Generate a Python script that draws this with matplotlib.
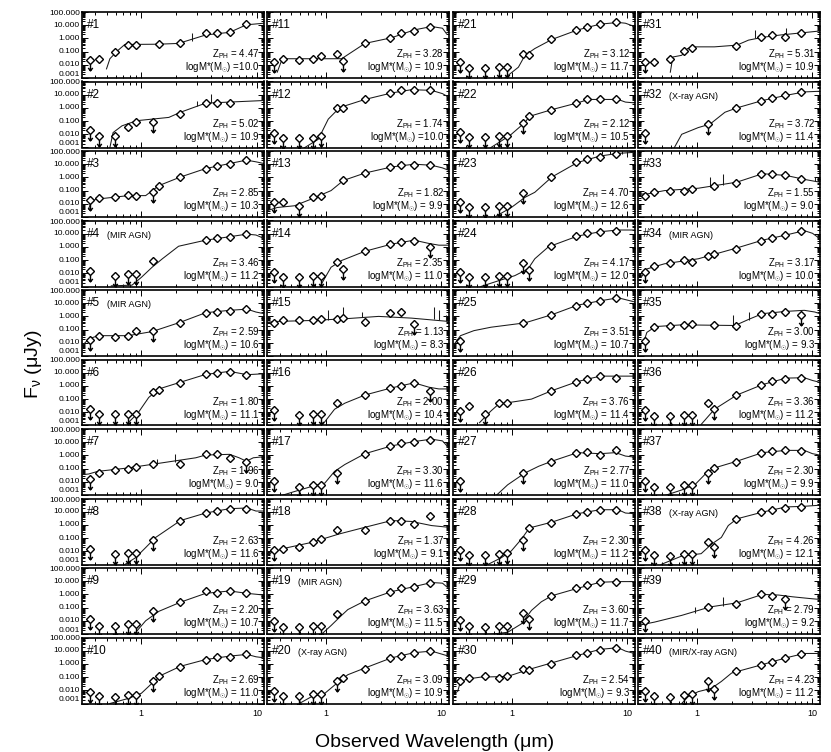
import numpy as np
import matplotlib
matplotlib.use('Agg')
import matplotlib.pyplot as plt
from matplotlib.path import Path
from matplotlib.transforms import offset_copy
from matplotlib.ticker import FixedLocator, LogLocator, NullFormatter, FormatStrFormatter

plt.rcParams['font.family'] = ['Liberation Sans', 'DejaVu Sans']
plt.rcParams['mathtext.fontset'] = 'custom'
plt.rcParams['mathtext.rm'] = 'Liberation Sans'
plt.rcParams['mathtext.it'] = 'Liberation Sans:italic'
plt.rcParams['mathtext.bf'] = 'Liberation Sans:bold'

# photometric bands (micron)
BAND_WAVE = [0.36, 0.43, 0.59, 0.77, 0.90, 1.25, 1.42, 2.16, 3.6, 4.5, 5.8, 8.0]
Y_TICKS = [0.001, 0.01, 0.1, 1, 10, 100]

n = None
# log10 flux (uJy) per band, None = not observed
PHOT = [
    [-1.67, -1.54, -1.03, -0.51, -0.51, n, -0.44, -0.33, 0.44, 0.44, 0.46, 1.08],
    [-1.67, -2.13, -2.13, -1.41, -1.10, -1.10, n, -0.46, 0.36, 0.36, 0.36, n],
    [-1.72, -1.56, -1.46, -1.31, -1.38, -1.08, -0.62, 0.03, 0.67, 0.85, 1.05, 1.31],
    [-1.79, n, -2.18, -2.05, -2.05, -1.10, n, n, 0.56, 0.64, 0.77, 0.97],
    [-1.77, -1.51, -1.59, -1.51, -1.13, -1.08, n, -0.49, 0.28, 0.33, 0.41, 0.55],
    [-1.77, -2.15, -2.15, -2.10, -2.10, -0.49, -0.28, 0.23, 0.87, 1.00, 1.05, 0.85],
    [-1.79, -1.33, -1.08, -1.00, -0.87, -0.64, n, -0.64, 0.08, 0.08, -0.18, -0.49],
    [-1.79, n, -2.23, -2.10, -2.10, -1.15, n, 0.33, 0.90, 1.03, 1.23, 1.23],
    [-1.85, -2.36, -2.36, -2.23, -2.23, -1.28, n, -0.56, 0.28, 0.13, 0.26, 0.13],
    [-2.10, -2.44, -2.49, -2.36, -2.36, -1.33, -0.95, -0.23, 0.33, 0.51, 0.54, 0.72],
    [-1.79, -1.54, -1.62, -1.54, -1.36, -1.15, -1.72, -0.38, 0.05, 0.38, 0.59, 0.90],
    [-1.87, -2.26, -2.26, -2.26, -2.13, 0.03, 0.03, 0.64, 1.13, 1.38, 1.38, 1.33],
    [-1.85, -1.90, -2.15, -1.51, -1.38, n, -0.23, 0.33, 0.79, 0.97, 0.97, 0.92],
    [-1.87, -2.31, -2.31, -2.18, -2.18, -1.15, -1.67, -0.33, 0.21, 0.38, 0.44, 0.00],
    [-0.51, -0.31, -0.31, -0.31, -0.23, -0.23, -0.13, -0.44, 0.26, 0.33, -0.56, n],
    [-1.85, n, -2.23, -2.15, -2.15, -1.31, n, -0.69, -0.15, 0.03, 0.23, -0.36],
    [-1.92, n, -2.36, -2.28, -2.28, -1.33, n, 0.13, 0.72, 0.92, 1.03, 1.18],
    [-1.92, -1.79, -1.67, -1.26, -1.08, -0.38, n, -0.38, 0.33, 0.33, 0.08, 0.64],
    [-2.03, -2.44, -2.44, -2.36, -2.36, -1.46, n, -0.51, 0.21, 0.46, 0.59, 0.90],
    [-2.03, -2.41, -2.41, -2.31, -2.31, -1.33, -1.08, -0.38, 0.46, 0.59, 0.85, 0.97],
    [-1.79, -2.26, -2.26, -2.18, -2.18, -1.15, -1.28, -0.08, 0.64, 0.90, 1.08, 1.21],
    [-1.79, -2.21, -2.21, -2.13, -2.13, -1.15, -0.64, -0.13, 0.38, 0.64, 0.64, 0.64],
    [-1.85, -2.23, -2.23, -2.15, -2.15, -1.21, n, 0.03, 1.13, 1.38, 1.56, 1.74],
    [-1.87, -2.26, -2.26, -2.18, -2.18, -1.21, -1.72, 0.05, 0.82, 1.03, 1.15, 1.23],
    [-1.85, n, n, n, n, -0.49, n, 0.08, 0.79, 1.03, 1.18, 1.36],
    [-1.90, -1.56, -2.15, -1.31, -1.31, n, n, -0.41, 0.33, 0.49, 0.74, 0.59],
    [-1.92, n, n, n, n, -1.33, n, -0.49, 0.21, 0.28, 0.03, 0.41],
    [-1.92, -2.31, -2.31, -2.23, -2.10, -1.15, -0.23, 0.15, 0.85, 0.97, 1.15, 1.15],
    [-1.97, -2.41, -2.44, -2.36, -2.36, -1.41, -1.85, -0.10, 0.46, 0.72, 0.92, 0.97],
    [-1.33, -1.08, -0.95, -1.08, -0.95, -0.38, -0.49, 0.03, 0.64, 0.85, 1.05, 1.18],
    [-1.79, -1.79, -1.54, -0.97, -0.72, n, n, -0.59, 0.08, 0.26, 0.08, 0.44],
    [-1.87, n, n, n, n, -1.23, n, 0.00, 0.56, 0.77, 0.95, 1.21],
    [-1.38, -1.08, -1.00, -1.00, -0.87, n, -0.62, -0.41, 0.23, 0.23, 0.15, -0.15],
    [-1.87, -1.41, -1.21, -1.03, -1.15, -0.72, -0.56, -0.13, 0.46, 0.69, 0.90, 1.23],
    [-1.85, -0.82, -0.69, -0.62, -0.56, n, -0.64, -0.74, 0.21, 0.21, 0.33, 0.08],
    [-1.85, -2.28, -2.28, -2.23, -2.23, -1.31, -1.77, -0.69, 0.10, 0.36, 0.54, 0.62],
    [-1.92, -2.36, -2.36, -2.23, -2.23, -1.33, -0.95, -0.51, 0.21, 0.33, 0.38, 0.33],
    [-1.92, -2.31, -2.36, -2.23, -2.18, -1.26, -1.67, 0.46, 0.97, 1.15, 1.28, 1.36],
    [-2.03, n, n, n, n, -0.95, n, -0.74, 0.00, -0.10, -0.38, n],
    [-2.03, -2.41, -2.49, -2.36, -2.31, -1.33, -1.92, -0.56, -0.05, 0.15, 0.46, 0.72],
]

# 'v' = upper limit
UPPER = [
    'v...........', 'vvv..v......', 'v....v......', 'v.vvv.......', 'v....v......',
    'vvvvv.......', 'v..........v', 'v.vvvv......', 'vvvvvv......', 'vvvvvv......',
    'v.....v.....', 'vvvvv.......', 'v.v.........', 'vvvvv.v....v', '..........v.',
    'v.vvv......v', 'v.vvvv......', 'v...........', 'vvvvv.......', 'vvvvvv......',
    'vvvvv.......', 'vvvvvv......', 'vvvvvv......', 'vvvvvvv.....', 'v...........',
    'v.v.........', 'v....v......', 'vvvvvv......', 'vvvvvvv.....', '............',
    'v...........', 'v....v......', '............', 'v...........', 'v..........v',
    'vvvvv.v.....', 'vvvvvv......', 'vvvvv.v.....', 'v.........v.', 'vvvvvvv.....',
]

# best-fit template, knots
MODEL_WAVE = [
    [0.50, 0.535, 0.59, 0.63, 0.72, 1.4, 2.1, 3.6, 5.8, 8.1, 11.5],
    [0.535, 0.57, 0.68, 0.91, 1.73, 2.18, 3.6, 11.5],
    [0.35, 0.37, 0.42, 0.77, 1.09, 1.42, 2.18, 3.6, 5.8, 8.1, 9.8, 11.5],
    [0.55, 0.83, 1.0, 1.24, 1.52, 2.1, 3.6, 5.8, 8.2, 9.8, 11.5],
    [0.307, 0.35, 0.42, 0.77, 1.24, 2.18, 3.6, 5.8, 8.2, 9.8, 11.5],
    [0.77, 0.94, 1.16, 1.42, 2.18, 3.6, 5.8, 8.2, 11.5],
    [0.307, 0.35, 0.42, 0.77, 1.52, 2.96, 3.6, 5.8, 7.0, 8.1, 9.3, 11.5],
    [0.72, 0.89, 1.09, 1.33, 1.62, 2.18, 3.6, 5.8, 8.2, 9.8, 11.5],
    [0.86, 1.09, 1.42, 2.18, 3.6, 5.8, 8.2, 11.5],
    [0.535, 0.77, 1.0, 1.24, 1.52, 2.18, 3.6, 5.8, 8.2, 9.8, 11.5],
    [0.38, 0.42, 1.37, 2.18, 3.7, 5.8, 8.2, 10.2, 11.0, 11.5],
    [0.65, 0.86, 1.05, 1.32, 2.18, 3.7, 5.5, 8.2, 10.2, 11.5],
    [0.307, 0.38, 0.535, 0.75, 1.11, 1.42, 2.18, 3.7, 5.8, 8.2, 10.2, 11.5],
    [0.89, 1.11, 1.37, 2.18, 3.7, 5.8, 7.8, 9.5, 11.5],
    [0.307, 0.38, 0.75, 1.46, 2.86, 5.5, 11.5],
    [0.94, 1.19, 1.46, 2.18, 3.7, 5.8, 7.8, 9.5, 11.5],
    [0.41, 0.535, 0.75, 0.98, 1.19, 1.46, 2.18, 3.7, 5.8, 8.2, 10.2, 11.5],
    [0.307, 0.44, 0.75, 1.3, 2.18, 3.7, 5.5, 8.2, 11.5],
    [0.91, 1.11, 1.32, 1.55, 2.18, 3.7, 5.8, 8.2, 10.2, 11.5],
    [0.59, 0.75, 0.98, 1.3, 1.55, 2.18, 3.7, 5.8, 8.2, 11.5],
    [0.87, 1.14, 1.30, 1.58, 2.22, 3.7, 5.8, 8.3, 9.6, 11.5],
    [0.66, 0.81, 0.99, 1.30, 1.42, 2.22, 3.7, 4.6, 8.3, 9.6, 11.5],
    [0.71, 0.99, 1.30, 1.58, 2.22, 3.7, 5.8, 8.3, 11.5],
    [0.54, 0.77, 1.06, 1.38, 1.58, 2.07, 3.7, 5.8, 8.3, 11.5],
    [0.318, 0.36, 0.47, 0.66, 1.30, 2.22, 3.7, 5.8, 8.3, 11.5],
    [0.525, 0.66, 0.77, 1.48, 2.22, 3.7, 5.8, 11.5],
    [0.73, 0.92, 1.30, 1.71, 2.22, 3.7, 5.8, 7.9, 9.6, 11.5],
    [0.62, 0.81, 0.99, 1.21, 1.42, 2.22, 3.7, 5.8, 8.3, 9.6, 11.5],
    [0.62, 0.92, 1.21, 1.48, 1.8, 2.22, 3.7, 5.8, 8.3, 11.5],
    [0.34, 0.36, 0.41, 0.54, 0.92, 1.38, 2.22, 3.7, 5.8, 8.3, 9.6, 11.5],
    [0.59, 0.62, 0.74, 0.83, 0.96, 1.42, 2.22, 2.8, 3.7, 5.3, 8.5, 11.5],
    [0.64, 0.74, 1.03, 1.30, 1.75, 2.22, 3.7, 5.9, 8.5, 11.5],
    [0.307, 0.37, 0.525, 1.03, 2.22, 3.7, 5.9, 8.5, 11.5],
    [0.33, 0.37, 0.525, 1.03, 2.22, 3.7, 5.9, 8.5, 10.0, 11.5],
    [0.35, 0.37, 0.44, 0.74, 2.14, 2.8, 3.7, 5.9, 8.5, 10.5, 11.5],
    [1.09, 1.42, 2.22, 3.7, 5.9, 8.5, 10.0, 11.5],
    [0.525, 0.74, 0.96, 1.17, 1.42, 2.22, 3.7, 5.9, 8.5, 10.0, 11.5],
    [0.49, 0.74, 1.09, 1.34, 1.63, 1.87, 2.22, 3.7, 5.9, 8.5, 11.5],
    [0.307, 0.43, 0.74, 1.30, 2.22, 3.7, 5.1, 6.7, 9.4, 11.5],
    [0.74, 0.84, 1.03, 1.34, 1.63, 2.0, 3.7, 5.9, 8.5, 11.5],
]
MODEL_FLUX = [
    [-2.31, -1.54, -1.15, -0.90, -0.46, -0.44, -0.38, 0.26, 0.46, 1.03, 1.15],
    [-3.0, -1.87, -1.36, -0.97, -0.72, -0.33, 0.36, 0.56],
    [-2.41, -1.77, -1.64, -1.38, -1.38, -0.62, 0.03, 0.67, 1.05, 1.31, 1.18, 1.05],
    [-2.95, -2.90, -2.31, -1.54, -0.90, 0.05, 0.51, 0.77, 0.97, 0.90, 0.64],
    [-2.23, -1.72, -1.46, -1.46, -1.15, -0.44, 0.28, 0.46, 0.55, 0.33, 0.21],
    [-2.79, -2.03, -0.87, -0.23, 0.28, 0.87, 1.10, 0.85, 0.92],
    [-1.46, -1.41, -1.21, -0.95, -0.56, -0.18, 0.03, 0.08, -0.18, -0.44, -0.18, -0.10],
    [-3.0, -2.49, -1.72, -0.95, -0.44, 0.33, 0.90, 1.23, 1.28, 1.05, 1.05],
    [-3.05, -2.0, -1.28, -0.59, 0.08, 0.26, 0.08, -0.05],
    [-3.0, -2.62, -2.23, -1.46, -0.82, -0.18, 0.33, 0.59, 0.72, 0.54, 0.46],
    [-2.56, -1.54, -1.54, -0.38, 0.05, 0.64, 0.90, 0.77, 0.38, 0.51],
    [-3.03, -2.38, -0.85, 0.03, 0.64, 1.13, 1.38, 1.33, 1.08, 0.82],
    [-2.54, -2.28, -2.15, -1.64, -1.0, -0.23, 0.33, 0.79, 1.0, 0.92, 0.72, 0.54],
    [-3.0, -1.54, -1.03, -0.33, 0.21, 0.51, 0.26, 0.13, 0.13],
    [-0.44, -0.38, -0.31, -0.18, 0.0, -0.13, -0.38],
    [-2.92, -1.77, -1.31, -0.69, -0.15, 0.23, -0.10, -0.23, -0.23],
    [-3.05, -2.74, -2.36, -2.10, -1.21, -0.69, 0.13, 0.72, 1.05, 1.23, 1.10, 0.59],
    [-2.23, -1.77, -1.33, -0.69, -0.18, 0.33, 0.26, -0.05, -0.18],
    [-3.05, -2.36, -1.72, -1.15, -0.49, 0.21, 0.59, 0.90, 0.85, 0.46],
    [-3.0, -2.49, -2.23, -1.33, -0.82, -0.31, 0.46, 0.85, 0.97, 0.59],
    [-3.0, -2.18, -1.28, -0.77, -0.08, 0.64, 1.08, 1.21, 1.15, 0.90],
    [-3.0, -2.51, -2.0, -1.10, -0.64, -0.13, 0.38, 0.64, 0.64, 0.44, 0.38],
    [-3.0, -2.28, -1.51, -1.13, 0.03, 1.13, 1.62, 1.82, 1.90],
    [-3.0, -2.56, -2.18, -1.67, -0.90, 0.0, 0.82, 1.15, 1.28, 1.28],
    [-2.10, -1.46, -1.08, -0.82, -0.49, 0.13, 0.85, 1.18, 1.41, 1.10],
    [-2.79, -1.90, -1.38, -1.0, -0.36, 0.33, 0.74, 0.74],
    [-3.05, -2.23, -1.33, -0.82, -0.44, 0.21, 0.13, 0.21, -0.05, -0.13],
    [-3.0, -2.49, -1.97, -1.08, -0.23, 0.21, 0.85, 1.15, 1.15, 0.90, 0.85],
    [-3.05, -2.87, -2.23, -1.21, -0.56, -0.10, 0.46, 0.92, 0.97, 0.97],
    [-2.10, -1.33, -1.15, -1.0, -0.95, -0.44, 0.08, 0.64, 1.10, 1.23, 0.97, 0.79],
    [-2.56, -1.41, -1.28, -0.77, -0.64, -0.64, -0.51, -0.13, 0.08, 0.26, 0.44, 0.56],
    [-3.0, -2.0, -1.49, -1.23, -0.33, 0.0, 0.56, 0.95, 1.21, 1.26],
    [-1.26, -1.26, -1.0, -0.82, -0.36, 0.28, 0.15, -0.15, -0.36],
    [-2.31, -1.67, -1.28, -0.90, -0.08, 0.51, 0.90, 1.23, 1.03, 0.64],
    [-1.85, -1.21, -0.77, -0.64, -0.69, -0.23, 0.21, 0.38, 0.46, 0.33, 0.21],
    [-2.92, -1.77, -0.69, 0.10, 0.59, 0.62, 0.41, 0.28],
    [-3.05, -2.62, -2.23, -1.46, -0.95, -0.44, 0.21, 0.38, 0.38, 0.13, 0.03],
    [-3.0, -2.36, -2.18, -1.46, -0.95, -0.05, 0.46, 0.97, 1.36, 1.41, 1.49],
    [-2.36, -2.10, -1.59, -0.95, -0.64, 0.0, -0.05, -0.18, -0.31, -0.38],
    [-3.0, -2.49, -2.10, -1.85, -1.33, -0.69, -0.05, 0.46, 0.79, 0.79],
]

# emission lines on the template: (wavelength, log base, log top)
SPIKES = {
    1: [(2.76, -0.20, 0.38)],
    2: [(3.05, 0.15, 0.56), (4.0, 0.40, 1.05)],
    7: [(1.38, -0.62, -0.30), (1.97, -0.49, 0.08)],
    15: [(1.05, -0.25, 0.46), (1.41, -0.18, 0.72), (2.05, -0.08, 0.33),
         (8.6, -0.20, 0.72), (9.5, -0.25, 0.51), (11.0, -0.35, 0.08)],
    31: [(3.2, 0.00, 0.64), (5.9, 0.26, 0.77)],
    33: [(1.3, -0.75, 0.00), (1.68, -0.60, 0.28), (10.5, -0.30, 0.00)],
    35: [(2.05, -0.69, 0.08), (2.8, -0.25, 0.33)],
    39: [(0.96, -1.40, -0.95), (1.69, -0.85, -0.18)],
}

Z_PHOT = ['4.47', '5.02', '2.85', '3.46', '2.59', '1.80', '1.96', '2.63', '2.20', '2.69',
          '3.28', '1.74', '1.82', '2.35', '1.13', '2.00', '3.30', '1.37', '3.63', '3.09',
          '3.12', '2.12', '4.70', '4.17', '3.51', '3.76', '2.77', '2.30', '3.60', '2.54',
          '5.31', '3.72', '1.55', '3.17', '3.00', '3.36', '2.30', '4.26', '2.79', '4.23']
LOG_MASS = ['10.0', '10.9', '10.3', '11.2', '10.6', '11.1', '9.0', '11.6', '10.7', '11.0',
            '10.9', '10.0', '9.9', '11.0', '8.3', '10.4', '11.6', '9.1', '11.5', '10.9',
            '11.7', '10.5', '12.6', '12.0', '10.7', '11.4', '11.0', '11.2', '11.7', '9.3',
            '10.9', '11.4', '9.0', '10.0', '9.3', '11.2', '9.9', '12.1', '9.2', '11.2']
NO_SPACE = {1, 12}
TAGS = {4: '(MIR AGN)', 5: '(MIR AGN)', 19: '(MIR AGN)', 20: '(X-ray AGN)',
        32: '(X-ray AGN)', 34: '(MIR AGN)', 38: '(X-ray AGN)', 40: '(MIR/X-ray AGN)'}

# down-arrow marker hung below the diamond
arrow = Path([(0, -4.0), (0, -10.5), (-2.3, -7.5), (0, -10.5), (2.3, -7.5)],
             [Path.MOVETO, Path.LINETO, Path.MOVETO, Path.LINETO, Path.LINETO])

W, H = 831, 752
fig = plt.figure(figsize=(W / 100, H / 100), dpi=100)

col_left = [82, 266.5, 452.5, 637.5]
pw, ph = 182, 66
row_step = 69.5

for k in range(40):
    num = k + 1
    col, row = k // 10, k % 10
    top = 12 + row * row_step
    ax = fig.add_axes([col_left[col] / W, 1 - (top + ph) / H, pw / W, ph / H])
    ax.set_xscale('log')
    ax.set_yscale('log')

    # template
    ax.plot(MODEL_WAVE[k], 10 ** np.array(MODEL_FLUX[k]), color='0.1', lw=0.75, zorder=2)
    for w, lo, hi in SPIKES.get(num, []):
        ax.vlines(w, 10 ** lo, 10 ** hi, color='0.1', lw=0.75, zorder=2)

    # photometry
    flux = np.array([np.nan if v is None else v for v in PHOT[k]])
    wave = np.array(BAND_WAVE)
    ok = ~np.isnan(flux)
    lim = np.array([c == 'v' for c in UPPER[k]])
    ax.plot(wave[ok], 10 ** flux[ok], 'D', ms=4.5, mfc='white', mec='k', mew=1.0, zorder=3)
    sel = ok & lim
    ax.plot(wave[sel], 10 ** flux[sel], ls='none', marker=arrow, ms=15, mfc='none',
            mec='k', mew=1.0, zorder=3)

    ax.set_xlim(0.307, 11.5)
    ax.set_ylim(1e-3, 100)
    ax.xaxis.set_major_locator(FixedLocator([1, 10]))
    ax.xaxis.set_minor_locator(FixedLocator([0.4, 0.5, 0.6, 0.7, 0.8, 0.9, 2, 3, 4, 5, 6, 7, 8, 9]))
    ax.yaxis.set_major_locator(FixedLocator(Y_TICKS))
    ax.yaxis.set_minor_locator(LogLocator(base=10, subs=np.arange(2, 10), numticks=10))
    ax.xaxis.set_minor_formatter(NullFormatter())
    ax.yaxis.set_minor_formatter(NullFormatter())
    ax.yaxis.set_major_formatter(NullFormatter())
    ax.tick_params(which='both', direction='in', top=True, right=True, width=0.7)
    ax.tick_params(which='major', length=4)
    ax.tick_params(which='minor', length=2)
    ax.tick_params(axis='x', labelsize=6.5, pad=4)
    if row == 9:
        ax.xaxis.set_major_formatter(FormatStrFormatter('%d'))
    else:
        ax.set_xticklabels([])
    for s in ax.spines.values():
        s.set_linewidth(1.2)

    # y labels by hand so the end labels sit inside the gap between rows
    if col == 0:
        ytr = ax.get_yaxis_transform()
        for v in Y_TICKS:
            if v == Y_TICKS[0]:
                tr, va = offset_copy(ytr, fig=fig, y=0.5, units='dots'), 'bottom'
            elif v == Y_TICKS[-1]:
                tr, va = offset_copy(ytr, fig=fig, y=2.0, units='dots'), 'top'
            else:
                tr, va = ytr, 'center'
            ax.text(-0.012, v, '%.3f' % v, transform=tr, ha='right', va=va, fontsize=6)

    label = ax.text(0.028, 0.89, '#%d' % num, transform=ax.transAxes, fontsize=8.5,
                    ha='left', va='top')
    if num in TAGS:
        ax.annotate(TAGS[num], xy=(1, 0), xycoords=label, xytext=(5, 0),
                    textcoords='offset points', fontsize=6.5, ha='left', va='bottom')
    eq = ' =' if num in NO_SPACE else ' = '
    info = (r'Z$_{\rm PH}$ = ' + Z_PHOT[k] + '\n' +
            r'logM*(M$_{\odot}$)' + eq + LOG_MASS[k])
    ax.text(0.975, 0.045, info, transform=ax.transAxes, fontsize=7, ha='right',
            va='bottom', multialignment='right', linespacing=0.95)

fig.text(0.040, 0.516, r'F$_{\mathrm{\nu}}$ (μJy)', rotation=90, fontsize=14,
         ha='center', va='center')
fig.text(0.523, 0.007, 'Observed Wavelength (μm)', fontsize=14, ha='center', va='baseline')

fig.savefig('out.png', dpi=100)
